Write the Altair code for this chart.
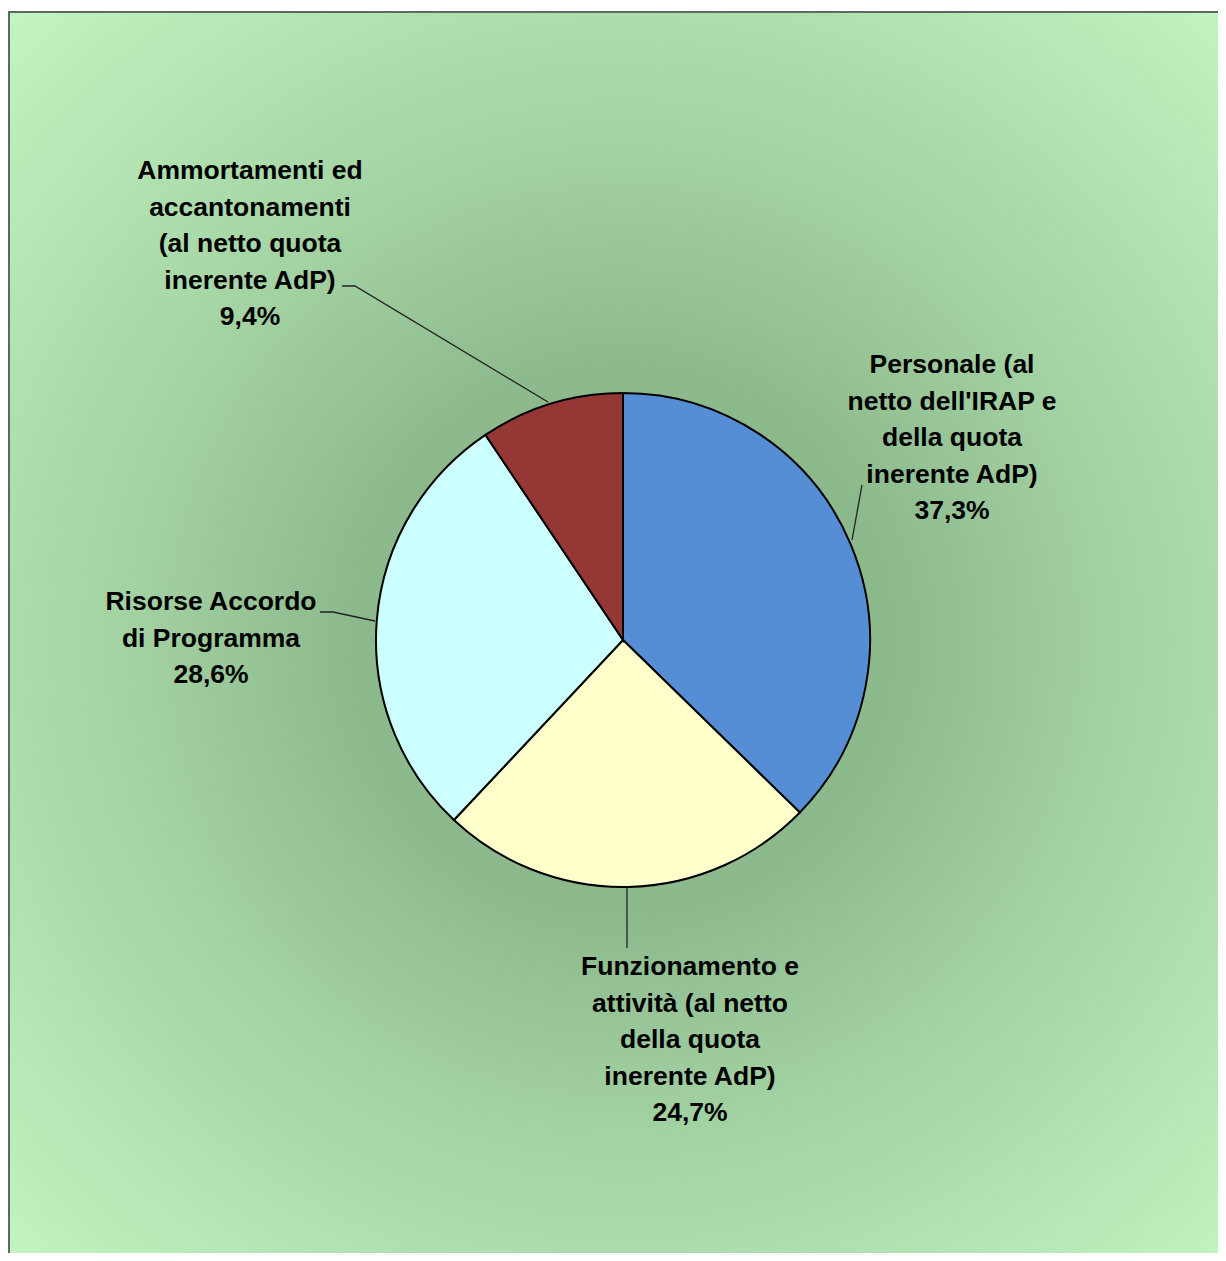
import altair as alt
import pandas as pd

# ---- data ----
categories = [
    "Personale (al\nnetto dell'IRAP e\ndella quota\ninerente AdP)",
    "Funzionamento e\nattività (al netto\ndella quota\ninerente AdP)",
    "Risorse Accordo\ndi Programma",
    "Ammortamenti ed\naccantonamenti\n(al netto quota\ninerente AdP)",
]
values = [37.3, 24.7, 28.6, 9.4]
slice_colors = ["#558ED5", "#FFFFCC", "#CCFFFF", "#953735"]

# ---- layout (plot-area pixels) ----
W, H = 1210, 1242
CX, CY, R = 615, 629, 247
label_pos = [(944, 362), (682, 964), (203, 599), (242, 168)]   # first-line baseline
leaders = [
    [(854, 474), (844, 529)],
    [(619, 876), (619, 937)],
    [(312, 601), (325, 601), (367, 610)],
    [(334, 275), (347, 275), (540, 391)],
]

def fmt(v):
    return f"{v:.1f}".replace(".", ",") + "%"

df = pd.DataFrame({
    "cat": categories,
    "value": values,
    "idx": list(range(len(values))),
    "label": [c + "\n" + fmt(v) for c, v in zip(categories, values)],
    "lx": [p[0] for p in label_pos],
    "ly": [p[1] for p in label_pos],
})

lead_rows = []
for i, pts in enumerate(leaders):
    for j, (x, y) in enumerate(pts):
        lead_rows.append({"seg": i, "ord": j, "x": x, "y": y})
lead_df = pd.DataFrame(lead_rows)

one = alt.Data(values=[{"a": 1}])

bg = alt.Chart(one).mark_rect(
    fill=alt.Gradient(
        gradient="radial",
        stops=[
            alt.GradientStop(offset=0.0, color="#88B188"),
            alt.GradientStop(offset=0.3, color="#8DBA8D"),
            alt.GradientStop(offset=0.55, color="#A3D2A3"),
            alt.GradientStop(offset=0.8, color="#B6E7B6"),
            alt.GradientStop(offset=1.0, color="#C4F8C4"),
        ],
        x1=CX / W, y1=CY / H, r1=0,
        x2=CX / W, y2=CY / H, r2=0.73,
    )
).encode(
    x=alt.value(0), x2=alt.value(W), y=alt.value(0), y2=alt.value(H)
)

left_border = alt.Chart(one).mark_rule(color="#5E6A5E", strokeWidth=2).encode(
    x=alt.value(1), y=alt.value(0), y2=alt.value(H)
)
top_border = alt.Chart(one).mark_rule(color="#5E6A5E", strokeWidth=2).encode(
    x=alt.value(0), x2=alt.value(W), y=alt.value(1)
)

pie = alt.Chart(df).mark_arc(radius=R, stroke="black", strokeWidth=2).encode(
    theta=alt.Theta("value:Q", stack=True),
    color=alt.Color("cat:N", scale=alt.Scale(domain=categories, range=slice_colors), legend=None),
    order=alt.Order("idx:Q"),
    x=alt.value(CX),
    y=alt.value(CY),
)

lead = alt.Chart(lead_df).mark_line(color="#222222", strokeWidth=1.3).encode(
    x=alt.X("x:Q", scale=None, axis=None),
    y=alt.Y("y:Q", scale=None, axis=None),
    detail="seg:N",
    order="ord:Q",
)

labels = alt.Chart(df).mark_text(
    font="Liberation Sans", fontWeight="bold", fontSize=26.5,
    lineBreak="\n", lineHeight=36.5, align="center", baseline="alphabetic",
    color="black",
).encode(
    x=alt.X("lx:Q", scale=None, axis=None),
    y=alt.Y("ly:Q", scale=None, axis=None),
    text="label:N",
)

chart = alt.layer(bg, left_border, top_border, pie, lead, labels).properties(
    width=W, height=H,
    padding={"left": 0, "top": 3, "right": 0, "bottom": 0},
    autosize=alt.AutoSizeParams(type="none"),
    background="white",
).configure_view(stroke=None)

chart.save("out.html", embed_options={"renderer": "svg", "actions": False})
